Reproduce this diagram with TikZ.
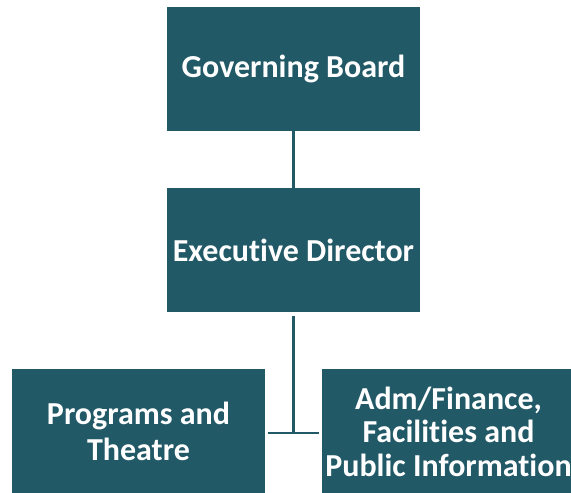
\documentclass[tikz,border=0pt]{standalone}
\usepackage{fontspec}
\setmainfont{Carlito}[Ligatures=NoCommon]
\usetikzlibrary{positioning}

\begin{document}
\begin{tikzpicture}[x=1pt,y=1pt,
  orgbox/.style={draw=none,fill=cbox,text=white,font=\bfseries\fontsize{32}{33.5}\selectfont,
    minimum width=253pt,minimum height=124pt,inner sep=0pt,align=center,shape=rectangle},
  orgline/.style={draw=cbox,line width=2.6pt}]
%
\useasboundingbox (0,0) rectangle (571,493);
%
\definecolor{cbox}{rgb}{0.133,0.349,0.404}
%
\node[orgbox] (board) at (293.5,424) {Governing Board};
\node[orgbox] (director) at (293.5,242.5) {Executive Director};
\node[orgbox] (programs) at (138.5,61.5) {Programs and\\[2pt]Theatre};
\node[orgbox] (admin) at (448.5,61.5) {Adm/Finance,\\Facilities and\\Public Information};
%
\coordinate (tee) at (293.5,60);
%
\draw[orgline] (board.south) -- (director.north);
\draw[orgline,shorten <=3pt] (director.south) -- (tee);
\draw[orgline,shorten <=3pt,shorten >=3pt] (tee -| programs.east) -- (tee -| admin.west);
%
\end{tikzpicture}
\end{document}
